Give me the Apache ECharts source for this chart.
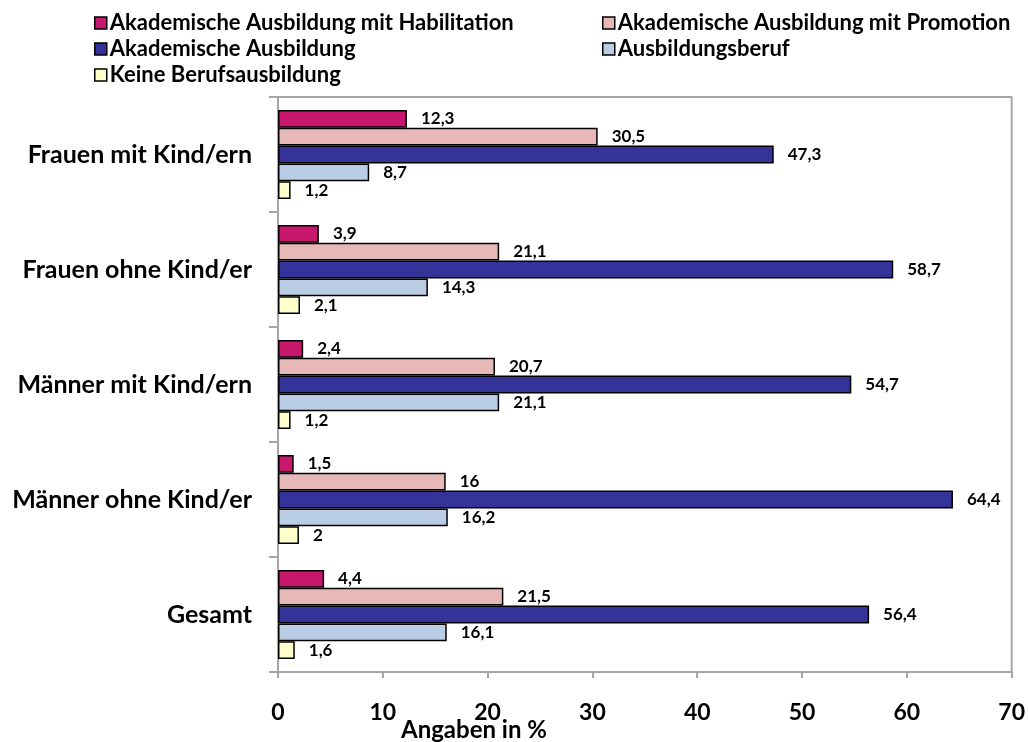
<!DOCTYPE html>
<html>
<head>
<meta charset="utf-8">
<script src="https://cdn.jsdelivr.net/npm/echarts@6/dist/echarts.min.js"></script>
<style>html,body{margin:0;padding:0;background:#fff}#c{width:1028px;height:742px}</style>
</head>
<body>
<div id="c"></div>
<script>
const categories = ['Frauen mit Kind/ern', 'Frauen ohne Kind/er', 'Männer mit Kind/ern', 'Männer ohne Kind/er', 'Gesamt'];
const seriesNames = ['Akademische Ausbildung mit Habilitation', 'Akademische Ausbildung mit Promotion', 'Akademische Ausbildung', 'Ausbildungsberuf', 'Keine Berufsausbildung'];
const habilitation = [12.3, 3.9, 2.4, 1.5, 4.4];
const promotion = [30.5, 21.1, 20.7, 16, 21.5];
const akademisch = [47.3, 58.7, 54.7, 64.4, 56.4];
const ausbildungsberuf = [8.7, 14.3, 21.1, 16.2, 16.1];
const keine = [1.2, 2.1, 1.2, 2, 1.6];
const xTicks = [0, 10, 20, 30, 40, 50, 60, 70];
const axisTitle = 'Angaben in %';

const values = [habilitation, promotion, akademisch, ausbildungsberuf, keine];
const colors = ['#C8186E', '#E6B8B7', '#333399', '#B9CDE5', '#FFFFCC'];
const FONT = 'Lato';

const legendPos = [
  {left: 94, top: 11}, {left: 602, top: 11},
  {left: 94, top: 37}, {left: 602, top: 37},
  {left: 94, top: 63}
];

const chart = echarts.init(document.getElementById('c'), null, {renderer: 'canvas'});
chart.setOption({
  animation: false,
  backgroundColor: '#fff',
  title: {
    text: axisTitle, left: 401, top: 717, padding: 0,
    textStyle: {fontFamily: FONT, fontWeight: 'bold', fontSize: 24, lineHeight: 26, color: '#000'}
  },
  legend: seriesNames.map((n, i) => ({
    data: [n], left: legendPos[i].left, top: legendPos[i].top, padding: 0,
    itemWidth: 12, itemHeight: 12, itemGap: 0,
    icon: 'rect',
    itemStyle: {borderColor: '#000', borderWidth: 1.5},
    textStyle: {fontFamily: FONT, fontWeight: 'bold', fontSize: 22, color: '#000', lineHeight: 24, padding: [0, 0, 0, -2]},
    selectedMode: false
  })),
  grid: {
    left: 278, right: 15, top: 97, bottom: 70,
    show: true, borderColor: '#a6a6a6', borderWidth: 2, backgroundColor: 'transparent'
  },
  xAxis: {
    type: 'value', min: 0, max: 70, interval: 10,
    axisLine: {show: true, lineStyle: {color: '#a6a6a6', width: 2}},
    axisTick: {show: true, length: 6, lineStyle: {color: '#a6a6a6', width: 2}},
    splitLine: {show: false},
    axisLabel: {
      margin: 29, fontFamily: FONT, fontWeight: 'bold', fontSize: 23, color: '#000',
      formatter: v => xTicks.includes(v) ? String(v) : ''
    }
  },
  yAxis: {
    type: 'category', data: categories, inverse: true,
    axisLine: {show: true, lineStyle: {color: '#a6a6a6', width: 2}},
    axisTick: {show: true, length: 9, alignWithLabel: false, lineStyle: {color: '#a6a6a6', width: 2}},
    axisLabel: {margin: 26, fontFamily: FONT, fontWeight: 'bold', fontSize: 25, color: '#000'}
  },
  series: seriesNames.map((n, i) => ({
    name: n, type: 'bar', data: values[i],
    barGap: '0%', barCategoryGap: '22.6%',
    itemStyle: {color: colors[i], borderColor: '#000', borderWidth: 1.5},
    label: {
      show: true, position: 'right', distance: 14,
      fontFamily: FONT, fontWeight: 'bold', fontSize: 17, color: '#000',
      formatter: p => String(p.value).replace('.', ',')
    }
  }))
});
</script>
</body>
</html>
